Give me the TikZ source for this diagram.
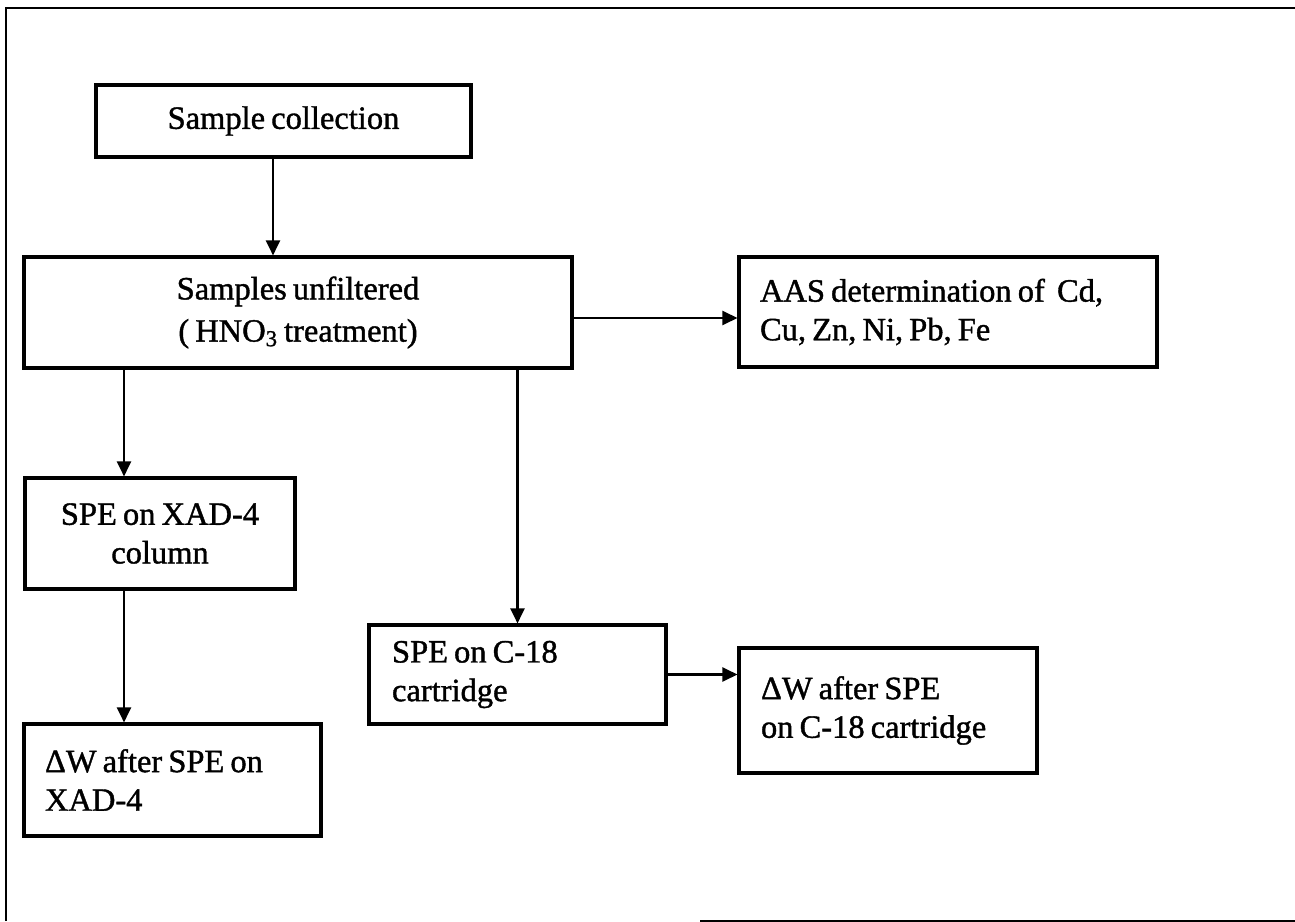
\documentclass[tikz,border=0pt]{standalone}
\usepackage{fontspec}
\setmainfont{Liberation Serif}[WordSpace=0.75, FakeBold=1.2]
\usepackage{tikz}
\usetikzlibrary{arrows.meta, positioning, calc}

\tikzset{
  box/.style={draw, line width=1.8pt, inner sep=0pt, font=\fontsize{18.5}{22}\selectfont},
  arr/.style={line width=1.3pt, -{Triangle[length=3mm,width=2.8mm]}},
  frame/.style={line width=1.2pt}
}

\begin{document}
\begin{tikzpicture}[x=0.02cm,y=-0.02cm]
  \useasboundingbox (0,0) rectangle (1295,922);

  % Outer frame (bottom only partly visible)
  \draw[frame] (6,921) -- (6,8) -- (1295,8);
  \draw[frame] (700,921) -- (1295,921);

  % Main column
  \node[box, minimum width=7.5cm, minimum height=1.44cm] (sc) at (283.5,121) {Sample collection};
  \node[box, align=center, minimum width=10.96cm, minimum height=2.22cm] (su) at (298,312.5)
    {Samples unfiltered\\[2pt] ( HNO\textsubscript{3} treatment)};
  \node[box, align=flush left, inner xsep=0.42cm, text width=7.52cm, minimum height=2.2cm] (aas) at (948,312)
    {AAS determination of~ Cd,\\Cu, Zn, Ni, Pb, Fe};

  % XAD-4 branch
  \node[box, align=center, minimum width=5.4cm, minimum height=2.22cm] (xad) at (160,533.5)
    {SPE on XAD-4\\column};
  \node[box, align=flush left, inner xsep=0.42cm, text width=5.1cm, minimum height=2.24cm] (dxad) at (172.5,780)
    {ΔW after SPE on\\XAD-4};

  % C-18 branch
  \node[box, align=flush left, inner xsep=0.46cm, text width=5.02cm, minimum height=1.98cm] (c18) at (517.5,674.5)
    {SPE on C-18\\cartridge};
  \node[box, align=flush left, inner xsep=0.44cm, text width=5.08cm, minimum height=2.5cm] (dc18) at (888,710.5)
    {ΔW after SPE\\on C-18 cartridge};

  % Arrows
  \coordinate (scout) at ([xshift=-0.21cm]sc.south);
  \coordinate (suout) at ([yshift=-0.11cm]su.east);
  \coordinate (xadin) at ([xshift=-0.72cm]xad.north);
  \draw[arr] (scout) -- (scout |- su.north);
  \draw[arr] (suout) -- (suout -| aas.west);
  \draw[arr] (xadin |- su.south) -- (xadin);
  \draw[arr] (xadin |- xad.south) -- (xadin |- dxad.north);
  \draw[arr] (c18.north |- su.south) -- (c18.north);
  \draw[arr] (c18.east) -- (c18.east -| dc18.west);
\end{tikzpicture}
\end{document}
